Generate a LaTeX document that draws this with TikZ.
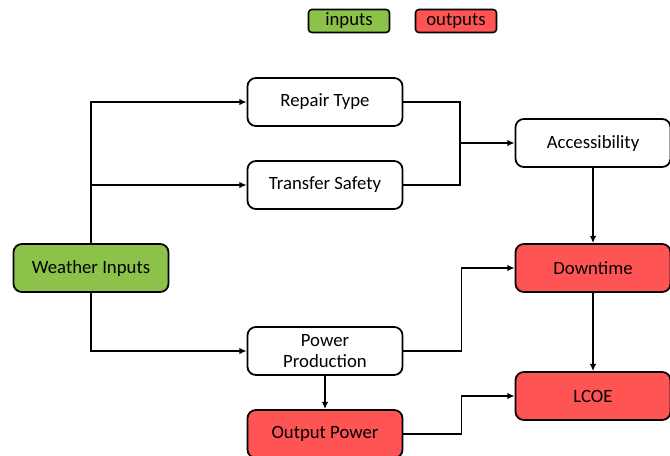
\documentclass[tikz,border=0pt]{standalone}
\usepackage{fontspec}
\setmainfont{Carlito}
\usepackage{xcolor}
\usetikzlibrary{arrows.meta,positioning}

\definecolor{ingreen}{RGB}{141,194,74}
\definecolor{outred}{RGB}{255,84,84}

\begin{document}
\begin{tikzpicture}[
    % GLOBAL CFG
    font=\fontsize{16}{19}\selectfont,
    >={Latex[length=2.2mm,width=2mm]},
    % Styles
    block/.style={% For the main boxes
        rectangle,
        rounded corners=2.5mm,
        draw,
        line width=1.5pt,
        minimum height=1.44cm,
        minimum width=4.65cm,
        align=center,
        fill=white,
        },
    legend/.style={% For the small keys at the top
        rectangle,
        rounded corners=1mm,
        draw,
        line width=1.3pt,
        minimum height=0.69cm,
        minimum width=2.43cm,
        inner sep=0pt,
        },
    ArrowC1/.style={% Connectors
        line width=1.5pt,
        },
    ]

%Start drawing the thing...
    \useasboundingbox (0,0) rectangle (20.1,-13.65);
    % Legend:
    \node [legend, fill=ingreen] (inkey) at (10.47,-0.63) {inputs};
    \node [legend, fill=outred] (outkey) at (13.68,-0.63) {outputs};

    % Draw the blocks:
    \node [block] (repair) at (9.75,-3.06) {Repair Type};
    \node [block] (transfer) at (9.75,-5.55) {Transfer Safety};
    \node [block] (access) at (17.79,-4.29) {Accessibility};
    \node [block, fill=ingreen] (weather) at (2.73,-8.04) {Weather Inputs};
    \node [block, fill=outred] (downtime) at (17.79,-8.04) {Downtime};
    \node [block] (power) at (9.75,-10.53) {Power\\[-1pt]Production};
    \node [block, fill=outred] (lcoe) at (17.79,-11.88) {LCOE};
    \node [block, fill=outred] (outpower) at (9.75,-13.02) {Output Power};

    % Junctions
    \coordinate (jtop) at (13.8,-4.29);

% Start connecting all.
    \draw [->, ArrowC1] (weather.north) |- (repair.west);
    \draw [->, ArrowC1] (weather.north |- transfer.west) -- (transfer.west);
    \draw [->, ArrowC1] (weather.south) |- (power.west);

    \draw [ArrowC1] (repair.east) -| (jtop);
    \draw [ArrowC1] (transfer.east) -| (jtop);
    \draw [->, ArrowC1] (jtop) -- (access.west);

    \draw [->, ArrowC1] (access) -- (downtime);
    \draw [->, ArrowC1] (downtime) -- (lcoe);
    \draw [->, ArrowC1] (power) -- (outpower);

    \draw [->, ArrowC1] (power.east) -- ++(1.74,0) |- (downtime.west);
    \draw [->, ArrowC1] (outpower.east) -- ++(1.74,0) |- (lcoe.west);
    \end{tikzpicture}
\end{document}
